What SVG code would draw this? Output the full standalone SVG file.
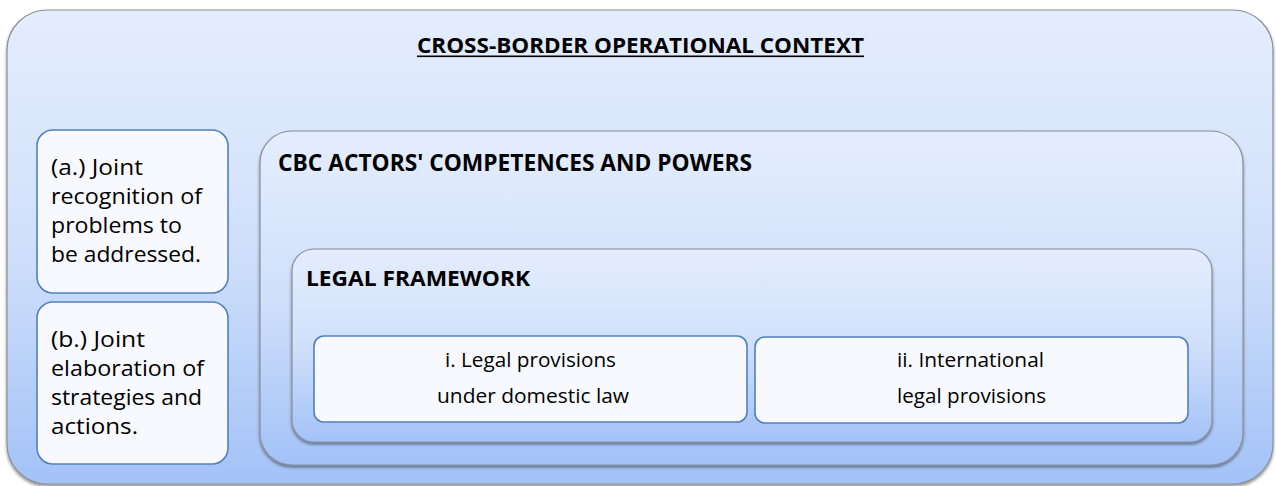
<svg xmlns="http://www.w3.org/2000/svg" width="1276" height="486" viewBox="0 0 1276 486">
<defs>
<linearGradient id="g" x1="0" y1="0" x2="0" y2="1">
<stop offset="0" stop-color="#e4edfd"/>
<stop offset="0.5" stop-color="#d0e0fb"/>
<stop offset="1" stop-color="#a3c2f7"/>
</linearGradient>
<filter id="sh" x="-5%" y="-5%" width="110%" height="115%">
<feGaussianBlur in="SourceAlpha" stdDeviation="1.5"/>
<feOffset dx="0" dy="2" result="b"/>
<feComponentTransfer><feFuncA type="linear" slope="0.45"/></feComponentTransfer>
<feMerge><feMergeNode/><feMergeNode in="SourceGraphic"/></feMerge>
</filter>
<style>
.box{fill:url(#g);stroke:#8a8f98;stroke-width:1.2;filter:url(#sh)}
.leaf{fill:#f7f9fe;stroke:#4f81bd;stroke-width:1.6}
.t{font-family:"Open Sans","Liberation Sans",sans-serif;fill:#000}
.b{font-weight:bold}
.s{font-size:21.5px}
.m{font-size:19.5px}
</style>
</defs>
<g id="context">
<rect class="box" x="7" y="10" width="1266" height="474" rx="40"/>
<text class="t b" x="417" y="53" font-size="21.5" textLength="447" lengthAdjust="spacingAndGlyphs">CROSS-BORDER OPERATIONAL CONTEXT</text>
<rect x="417" y="55.5" width="447" height="1.6" fill="#000"/>
</g>
<g id="node-a">
<rect class="leaf" x="37" y="130" width="191" height="163" rx="16"/>
<text class="t s"><tspan x="51" y="175" textLength="92" lengthAdjust="spacingAndGlyphs">(a.) Joint</tspan><tspan x="51" y="204" textLength="151" lengthAdjust="spacingAndGlyphs">recognition of</tspan><tspan x="51" y="233" textLength="131" lengthAdjust="spacingAndGlyphs">problems to</tspan><tspan x="51" y="262" textLength="150" lengthAdjust="spacingAndGlyphs">be addressed.</tspan></text>
</g>
<g id="node-b">
<rect class="leaf" x="37" y="302" width="191" height="162" rx="16"/>
<text class="t s"><tspan x="51" y="347" textLength="94" lengthAdjust="spacingAndGlyphs">(b.) Joint</tspan><tspan x="51" y="376" textLength="153" lengthAdjust="spacingAndGlyphs">elaboration of</tspan><tspan x="51" y="405" textLength="151" lengthAdjust="spacingAndGlyphs">strategies and</tspan><tspan x="51" y="434" textLength="87" lengthAdjust="spacingAndGlyphs">actions.</tspan></text>
</g>
<g id="cbc">
<rect class="box" x="260" y="131" width="983" height="334" rx="32"/>
<text class="t b" x="278" y="171" font-size="23" textLength="474" lengthAdjust="spacingAndGlyphs">CBC ACTORS' COMPETENCES AND POWERS</text>
</g>
<g id="legal">
<rect class="box" x="292" y="249" width="920" height="193" rx="22"/>
<text class="t b" x="306" y="286" font-size="22" textLength="224" lengthAdjust="spacingAndGlyphs">LEGAL FRAMEWORK</text>
</g>
<g id="node-i">
<rect class="leaf" x="314" y="336" width="433" height="86" rx="10"/>
<text class="t m"><tspan x="445" y="367" textLength="171" lengthAdjust="spacingAndGlyphs">i. Legal provisions</tspan><tspan x="437" y="403" textLength="192" lengthAdjust="spacingAndGlyphs">under domestic law</tspan></text>
</g>
<g id="node-ii">
<rect class="leaf" x="755" y="337" width="433" height="86" rx="10"/>
<text class="t m"><tspan x="897" y="367" textLength="147" lengthAdjust="spacingAndGlyphs">ii. International</tspan><tspan x="897" y="403" textLength="149" lengthAdjust="spacingAndGlyphs">legal provisions</tspan></text>
</g>
<g id="connectors"></g>
</svg>
